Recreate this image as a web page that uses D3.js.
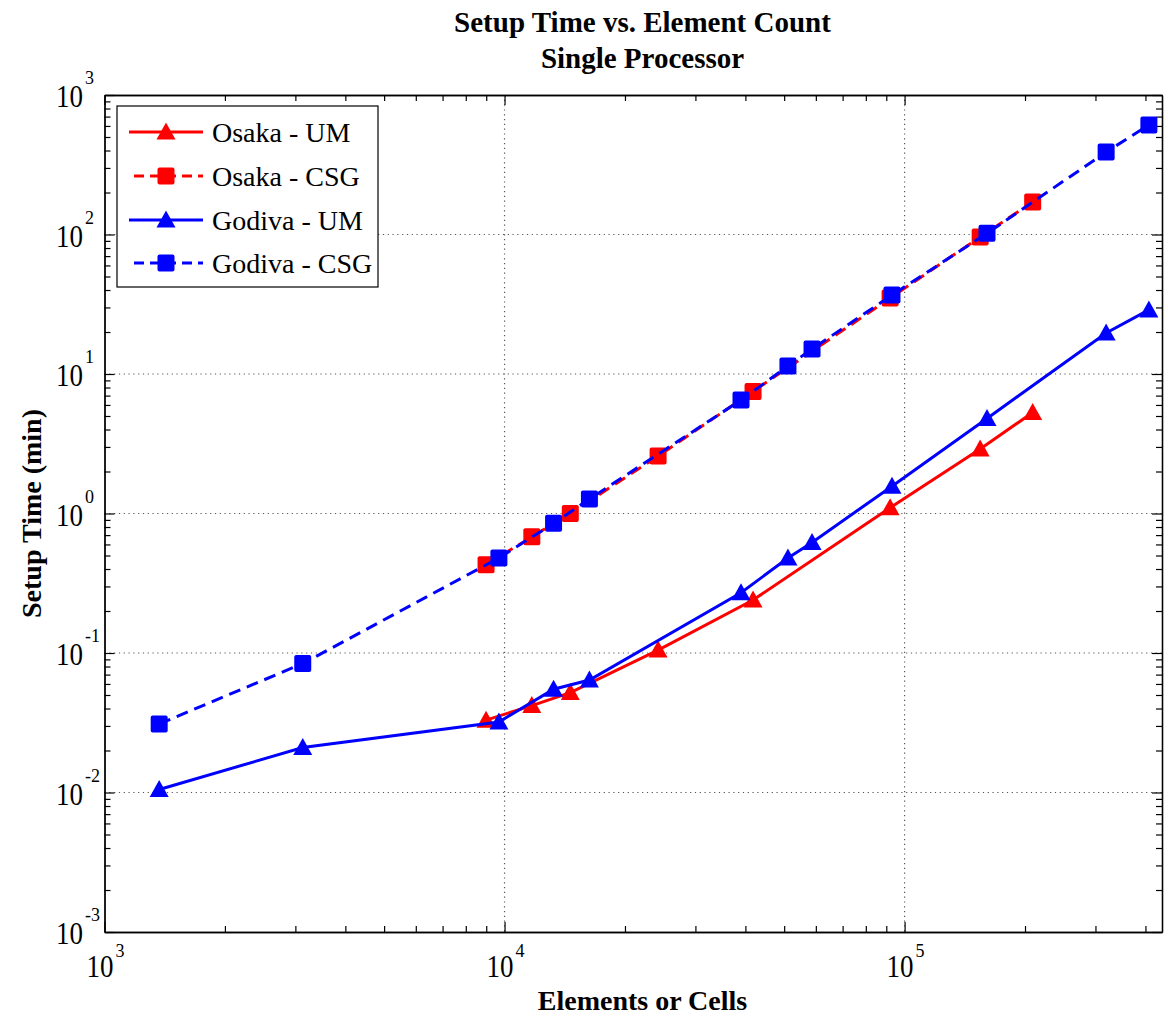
<!DOCTYPE html>
<html>
<head>
<meta charset="utf-8">
<script src="https://cdn.jsdelivr.net/npm/d3@7"></script>
<style>
  body { margin: 0; background: #fff; }
  text { font-family: "Liberation Serif", "Times New Roman", serif; fill: #000; }
</style>
</head>
<body>
<svg id="chart" width="1168" height="1016"></svg>
<script>
// values (x = elements or cells, y = setup time in minutes)
var osakaX = [8990, 11700, 14600, 24200, 41800, 92000, 154500, 209000];
var osakaUM = [0.033, 0.042, 0.052, 0.105, 0.24, 1.1, 2.9, 5.3];
var osakaCSG = [0.43, 0.68, 1.0, 2.58, 7.5, 35, 96, 171];

var godivaX = [1370, 3130, 9680, 13260, 16300, 39000, 51100, 58700, 93000, 160700, 319000, 408000];
var godivaUM = [0.0105, 0.021, 0.032, 0.055, 0.064, 0.27, 0.48, 0.62, 1.57, 4.8, 19.7, 28.8];
var godivaCSG = [0.031, 0.084, 0.48, 0.85, 1.27, 6.5, 11.4, 15.1, 36.8, 102, 390, 610];

var seriesNames = ["Osaka - UM", "Osaka - CSG", "Godiva - UM", "Godiva - CSG"];
var xDecades = [3, 4, 5];
var yDecades = [-3, -2, -1, 0, 1, 2, 3];

(function () {
    "use strict";

    var svg = d3.select("#chart"),
        plot = {left: 104.5, right: 1162, top: 95, bottom: 932},
        x = d3.scaleLog().domain([1e3, 4.4e5]).range([plot.left, plot.right]),
        y = d3.scaleLog().domain([1e-3, 1e3]).range([plot.bottom, plot.top]),
        series = [
            {name: seriesNames[0], xs: osakaX, ys: osakaUM, color: "#ff0000", dash: null, mark: "tri"},
            {name: seriesNames[1], xs: osakaX, ys: osakaCSG, color: "#ff0000", dash: "12,7", mark: "sq"},
            {name: seriesNames[2], xs: godivaX, ys: godivaUM, color: "#0000ff", dash: null, mark: "tri"},
            {name: seriesNames[3], xs: godivaX, ys: godivaCSG, color: "#0000ff", dash: "12,7", mark: "sq"}
        ];


    function drawGrid () {
        var g = svg.append("g")
            .attr("stroke", "#555")
            .attr("stroke-width", 1.2)
            .attr("stroke-dasharray", "1.2,3.6");
        g.selectAll("line.gx").data(xDecades.slice(1)).enter().append("line")
            .attr("x1", function (d) { return x(Math.pow(10, d)); })
            .attr("x2", function (d) { return x(Math.pow(10, d)); })
            .attr("y1", plot.top).attr("y2", plot.bottom);
        g.selectAll("line.gy").data(yDecades.slice(1, -1)).enter().append("line")
            .attr("y1", function (d) { return y(Math.pow(10, d)); })
            .attr("y2", function (d) { return y(Math.pow(10, d)); })
            .attr("x1", plot.left).attr("x2", plot.right);
    }


    function addAxis (axisFn, scale, vals, size, transform) {
        var g = svg.append("g")
            .attr("transform", transform)
            .call(axisFn(scale).tickValues(vals).tickSizeInner(-size)
                  .tickSizeOuter(0).tickFormat(""));
        g.select(".domain").attr("stroke", "#000").attr("stroke-width", 1.3);
        g.selectAll(".tick line").attr("stroke", "#000").attr("stroke-width", 1.2);
    }


    function drawAxes () {
        var xall = x.ticks().filter(function (v) { return v < 4.4e5; }),
            yall = y.ticks(),
            isMajor = function (v) { return Math.abs(Math.log10(v) - Math.round(Math.log10(v))) < 1e-9; },
            xmaj = xall.filter(isMajor), xmin = xall.filter(function (v) { return !isMajor(v); }),
            ymaj = yall.filter(isMajor), ymin = yall.filter(function (v) { return !isMajor(v); });
        [[xmaj, 10], [xmin, 6]].forEach(function (p) {
            addAxis(d3.axisBottom, x, p[0], p[1], "translate(0," + plot.bottom + ")");
            addAxis(d3.axisTop, x, p[0], p[1], "translate(0," + plot.top + ")"); });
        [[ymaj, 10], [ymin, 6]].forEach(function (p) {
            addAxis(d3.axisLeft, y, p[0], p[1], "translate(" + plot.left + ",0)");
            addAxis(d3.axisRight, y, p[0], p[1], "translate(" + plot.right + ",0)"); });
    }


    function drawTickLabels () {
        var g = svg.append("g");
        xDecades.forEach(function (d) {
            var px = x(Math.pow(10, d));
            g.append("text").attr("x", px + 9).attr("y", 977)
                .attr("text-anchor", "end").attr("font-size", 31)
                .attr("textLength", 27).attr("lengthAdjust", "spacingAndGlyphs")
                .text("10");
            g.append("text").attr("x", px + 11).attr("y", 957)
                .attr("font-size", 18).text(d); });
        yDecades.forEach(function (d) {
            var py = y(Math.pow(10, d));
            g.append("text").attr("x", 83).attr("y", py + 12)
                .attr("text-anchor", "end").attr("font-size", 31)
                .attr("textLength", 27).attr("lengthAdjust", "spacingAndGlyphs")
                .text("10");
            g.append("text").attr("x", 85).attr("y", py - 11)
                .attr("font-size", 18).text(d); });
    }


    function markerPath (kind) {
        if(kind === "tri") {
            return "M0,-9.5L9.5,7.5L-9.5,7.5Z"; }
        return "M-8.5,-6.5Q-8.5,-8.5 -6.5,-8.5L6.5,-8.5Q8.5,-8.5 8.5,-6.5" +
            "L8.5,6.5Q8.5,8.5 6.5,8.5L-6.5,8.5Q-8.5,8.5 -8.5,6.5Z";
    }


    function drawSeries () {
        var line = d3.line()
            .x(function (d) { return x(d[0]); })
            .y(function (d) { return y(d[1]); });
        series.forEach(function (s) {
            var pts = d3.zip(s.xs, s.ys),
                g = svg.append("g");
            g.append("path").datum(pts)
                .attr("d", line)
                .attr("fill", "none")
                .attr("stroke", s.color)
                .attr("stroke-width", 3)
                .attr("stroke-dasharray", s.dash);
            g.selectAll("path.mk").data(pts).enter().append("path")
                .attr("class", "mk")
                .attr("d", markerPath(s.mark))
                .attr("transform", function (d) {
                    return "translate(" + x(d[0]) + "," + y(d[1]) + ")"; })
                .attr("fill", s.color); });
    }


    function drawLegend () {
        var g = svg.append("g"),
            rowY = [132, 176, 220, 263];
        g.append("rect").attr("x", 117).attr("y", 106)
            .attr("width", 261).attr("height", 181)
            .attr("fill", "#fff").attr("stroke", "#000").attr("stroke-width", 1.2);
        series.forEach(function (s, i) {
            g.append("line").attr("x1", s.dash ? 134 : 129).attr("x2", 203)
                .attr("y1", rowY[i]).attr("y2", rowY[i])
                .attr("stroke", s.color).attr("stroke-width", 3)
                .attr("stroke-dasharray", s.dash ? "10,6" : null);
            g.append("path").attr("d", markerPath(s.mark))
                .attr("transform", "translate(166," + rowY[i] + ")")
                .attr("fill", s.color);
            g.append("text").attr("x", 212).attr("y", rowY[i] + 10)
                .attr("font-size", 28).text(s.name); });
    }


    function drawTitles () {
        svg.append("text").attr("x", 642.5).attr("y", 32)
            .attr("text-anchor", "middle").attr("font-size", 29)
            .attr("font-weight", "bold").text("Setup Time vs. Element Count");
        svg.append("text").attr("x", 642.5).attr("y", 68)
            .attr("text-anchor", "middle").attr("font-size", 29)
            .attr("font-weight", "bold").text("Single Processor");
        svg.append("text").attr("x", 642.5).attr("y", 1010)
            .attr("text-anchor", "middle").attr("font-size", 28)
            .attr("font-weight", "bold").text("Elements or Cells");
        svg.append("text")
            .attr("transform", "translate(41," + ((plot.top + plot.bottom) / 2) + ") rotate(-90)")
            .attr("text-anchor", "middle").attr("font-size", 28)
            .attr("font-weight", "bold").text("Setup Time (min)");
    }


    drawGrid();
    drawAxes();
    drawSeries();
    drawLegend();
    drawTickLabels();
    drawTitles();
}());
</script>
</body>
</html>
